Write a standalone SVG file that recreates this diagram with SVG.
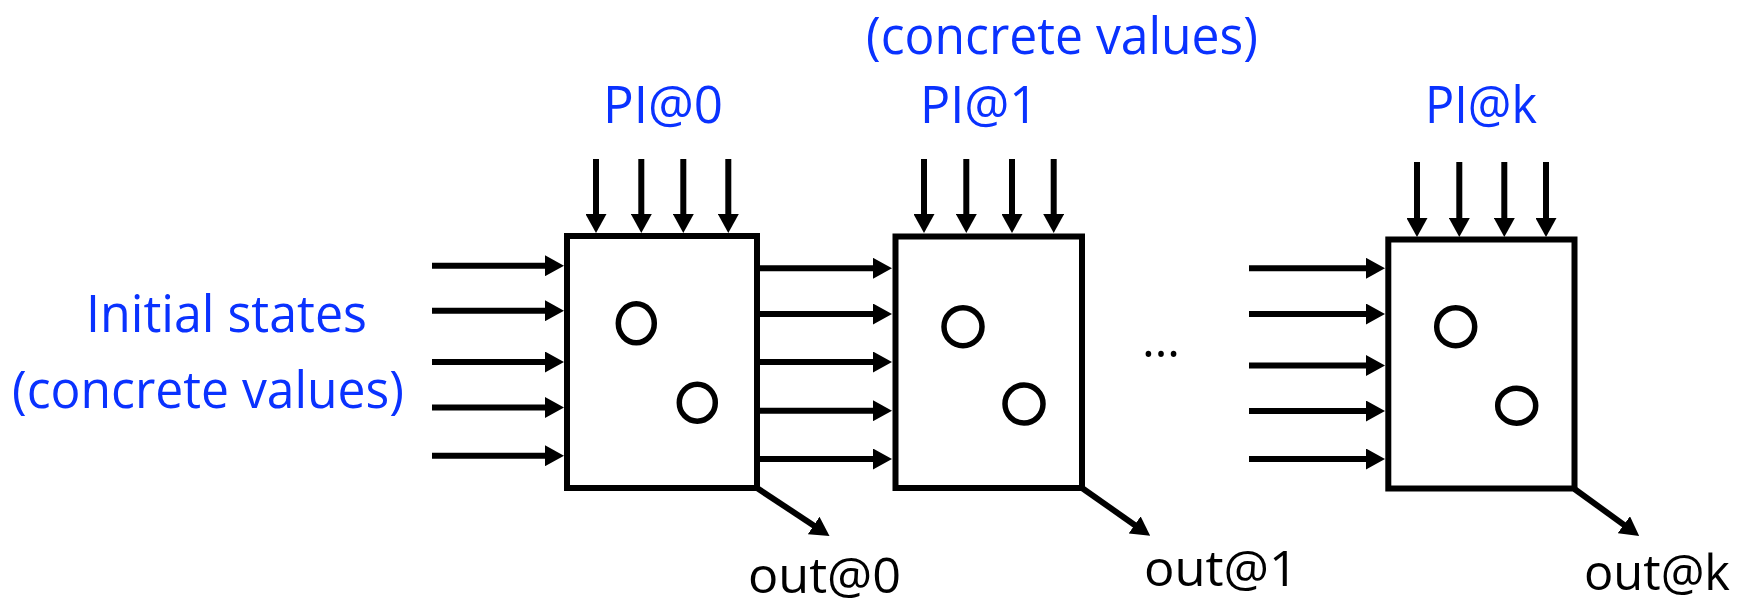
<svg xmlns="http://www.w3.org/2000/svg" width="1754" height="605" viewBox="0 0 1754 605">
<style>
  .box { fill: #ffffff; stroke: #000000; stroke-width: 6; }
  .reg { fill: none; stroke: #000000; stroke-width: 5.5; }
  .wire { fill: none; stroke: #000000; stroke-width: 6; marker-end: url(#ah); }
  .lbl { font-family: "Open Sans", "Liberation Sans", sans-serif; font-size: 51px; fill: #0a32ff; }
  .out { font-family: "Open Sans", "Liberation Sans", sans-serif; font-size: 50px; fill: #000000; }
</style>
<defs>
  <marker id="ah" markerUnits="userSpaceOnUse" markerWidth="19" markerHeight="21" viewBox="0 0 19 21" refX="10" refY="10.5" orient="auto">
    <path d="M0,0 L19,10.5 L0,21 z" fill="#000000"/>
  </marker>
</defs>
<rect width="1754" height="605" fill="#ffffff"/>

<g id="labels">
  <text class="lbl" x="866" y="54" font-size="50" textLength="392" lengthAdjust="spacingAndGlyphs">(concrete values)</text>
  <text class="lbl" x="86" y="332" textLength="281" lengthAdjust="spacingAndGlyphs">Initial states</text>
  <text class="lbl" x="12" y="408" textLength="392" lengthAdjust="spacingAndGlyphs">(concrete values)</text>
  <text class="lbl" x="603" y="123" textLength="120" lengthAdjust="spacingAndGlyphs">PI@0</text>
  <text class="lbl" x="920" y="123" textLength="118" lengthAdjust="spacingAndGlyphs">PI@1</text>
  <text class="lbl" x="1425" y="123" textLength="112" lengthAdjust="spacingAndGlyphs">PI@k</text>
  <text class="out" x="748" y="593" textLength="153" lengthAdjust="spacingAndGlyphs">out@0</text>
  <text class="out" x="1144" y="586" textLength="154" lengthAdjust="spacingAndGlyphs">out@1</text>
  <text class="out" x="1584" y="590" textLength="146" lengthAdjust="spacingAndGlyphs">out@k</text>
  <text class="out" x="1142" y="357" textLength="38" lengthAdjust="spacingAndGlyphs">…</text>
</g>

<g id="frame0">
  <rect class="box" x="567" y="236" width="190" height="252"/>
  <ellipse class="reg" cx="636.3" cy="323.3" rx="18" ry="19.5"/>
  <ellipse class="reg" cx="697.3" cy="402.7" rx="18" ry="18.5"/>
</g>
<g id="frame1">
  <rect class="box" x="895.5" y="236.5" width="186.5" height="251.5"/>
  <ellipse class="reg" cx="963" cy="326.7" rx="19" ry="19"/>
  <ellipse class="reg" cx="1024" cy="404" rx="19" ry="19"/>
</g>
<g id="framek">
  <rect class="box" x="1388.3" y="239.5" width="186.2" height="249"/>
  <ellipse class="reg" cx="1455.7" cy="326.7" rx="19" ry="19"/>
  <ellipse class="reg" cx="1516.7" cy="405.7" rx="19" ry="17.5"/>
</g>

<g id="connectors">
  <!-- initial state inputs to frame 0 -->
  <line class="wire" x1="432" y1="265.7" x2="555" y2="265.7"/>
  <line class="wire" x1="432" y1="310.7" x2="555" y2="310.7"/>
  <line class="wire" x1="432" y1="362" x2="555" y2="362"/>
  <line class="wire" x1="432" y1="407.5" x2="555" y2="407.5"/>
  <line class="wire" x1="432" y1="455.7" x2="555" y2="455.7"/>
  <!-- frame 0 to frame 1 -->
  <line class="wire" x1="760" y1="268.3" x2="883" y2="268.3"/>
  <line class="wire" x1="760" y1="314" x2="883" y2="314"/>
  <line class="wire" x1="760" y1="362" x2="883" y2="362"/>
  <line class="wire" x1="760" y1="410.7" x2="883" y2="410.7"/>
  <line class="wire" x1="760" y1="459" x2="883" y2="459"/>
  <!-- inputs to frame k -->
  <line class="wire" x1="1249" y1="268.3" x2="1376" y2="268.3"/>
  <line class="wire" x1="1249" y1="314" x2="1376" y2="314"/>
  <line class="wire" x1="1249" y1="365.5" x2="1376" y2="365.5"/>
  <line class="wire" x1="1249" y1="411" x2="1376" y2="411"/>
  <line class="wire" x1="1249" y1="459" x2="1376" y2="459"/>
  <!-- PI inputs -->
  <line class="wire" x1="596" y1="159" x2="596" y2="224"/>
  <line class="wire" x1="641.3" y1="159" x2="641.3" y2="224"/>
  <line class="wire" x1="683.3" y1="159" x2="683.3" y2="224"/>
  <line class="wire" x1="728.3" y1="159" x2="728.3" y2="224"/>
  <line class="wire" x1="924" y1="159" x2="924" y2="224"/>
  <line class="wire" x1="966.3" y1="159" x2="966.3" y2="224"/>
  <line class="wire" x1="1012" y1="159" x2="1012" y2="224"/>
  <line class="wire" x1="1053.7" y1="159" x2="1053.7" y2="224"/>
  <line class="wire" x1="1417" y1="162" x2="1417" y2="228"/>
  <line class="wire" x1="1459.3" y1="162" x2="1459.3" y2="228"/>
  <line class="wire" x1="1504.3" y1="162" x2="1504.3" y2="228"/>
  <line class="wire" x1="1546" y1="162" x2="1546" y2="228"/>
  <!-- outputs -->
  <line class="wire" x1="757" y1="488" x2="822" y2="531"/>
  <line class="wire" x1="1082" y1="488" x2="1142.8" y2="530.7"/>
  <line class="wire" x1="1574.5" y1="489" x2="1631.9" y2="530.6"/>
</g>
</svg>
